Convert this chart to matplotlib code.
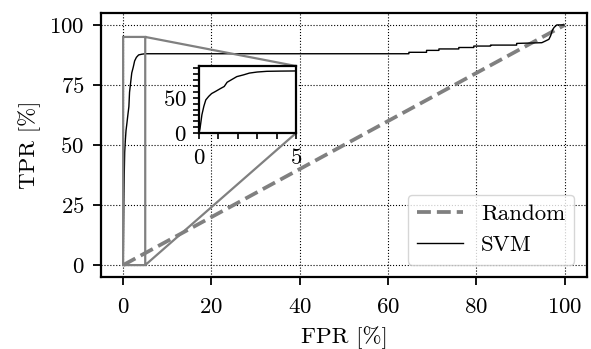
import matplotlib
matplotlib.use("Agg")
import matplotlib.pyplot as plt
from matplotlib.ticker import MultipleLocator
import numpy as np

plt.rcParams['font.family'] = 'serif'
plt.rcParams['font.serif'] = ['cmr10']
plt.rcParams['mathtext.fontset'] = 'cm'
plt.rcParams['axes.formatter.use_mathtext'] = True
plt.rcParams['font.size'] = 16.5

# ROC data (percent)
rand_fpr = [0, 100]
rand_tpr = [0, 100]

svm_fpr = [0, 0.05, 0.15, 0.25, 0.35, 0.5, 0.65, 0.85, 1.1, 1.3, 1.45, 1.7, 1.95,
           2.3, 2.6, 3.0, 3.5, 4.2, 5.0, 64.7, 64.7, 68.7, 68.7, 71.5, 71.5, 76.0,
           76.0, 79.4, 79.4, 83.2, 83.2, 89.1, 89.1, 94.8, 95.5, 96.4, 96.8, 97.2,
           97.6, 98.2, 99.8]
svm_tpr = [0, 6, 26, 38, 47, 52, 56, 59, 63, 66, 72, 76, 80,
           82.5, 85, 86.5, 87.5, 87.8, 88.0, 88.0, 88.6, 88.6, 89.4, 89.4, 90.0, 90.0,
           90.6, 90.6, 91.2, 91.2, 91.6, 91.6, 92.3, 92.6, 93.2, 94.0, 95.5, 97.9,
           99.0, 100, 100]

fig = plt.figure(figsize=(5.91, 3.49), dpi=100)
ax = fig.add_axes([0.171, 0.206, 0.822, 0.757])

ax.plot(rand_fpr, rand_tpr, color='gray', ls='--', lw=2.7, label='Random')
ax.plot(svm_fpr, svm_tpr, color='black', lw=1.0, label='SVM')

ax.set_xlim(-5, 105)
ax.set_ylim(-5, 105)
ax.set_xticks([0, 20, 40, 60, 80, 100])
ax.set_yticks([0, 25, 50, 75, 100])
ax.grid(True, color='black', ls=':', lw=0.8)
ax.set_xlabel('FPR [%]', labelpad=6)
ax.set_ylabel('TPR [%]', labelpad=6)
ax.tick_params(direction='out', length=6, width=1.3, pad=6)
ax.tick_params(axis='x', pad=9)
for s in ax.spines.values():
    s.set_linewidth(1.6)

ax.legend(loc='lower right', fontsize=16.5, framealpha=0.8, edgecolor='0.8',
          borderpad=0.4, handlelength=2.0, borderaxespad=0.55)

# inset zoom on the first 5 % FPR
axins = ax.inset_axes([0.2016, 0.545, 0.1996, 0.254])
axins.plot(svm_fpr, svm_tpr, color='black', lw=1.0)
axins.set_xlim(0, 5)
axins.set_ylim(0, 95)
axins.set_xticks([0, 5])
axins.set_yticks([0, 50])
axins.xaxis.set_minor_locator(MultipleLocator(1))
axins.yaxis.set_minor_locator(MultipleLocator(50 / 6))
axins.tick_params(which='both', direction='out', length=4, width=1.2,
                  labelsize=16.5, pad=5)
axins.tick_params(axis='x', pad=7)
for s in axins.spines.values():
    s.set_linewidth(1.6)

ind = ax.indicate_inset_zoom(axins, edgecolor='gray', alpha=1, lw=1.6)

fig.savefig('out.png', dpi=100)
